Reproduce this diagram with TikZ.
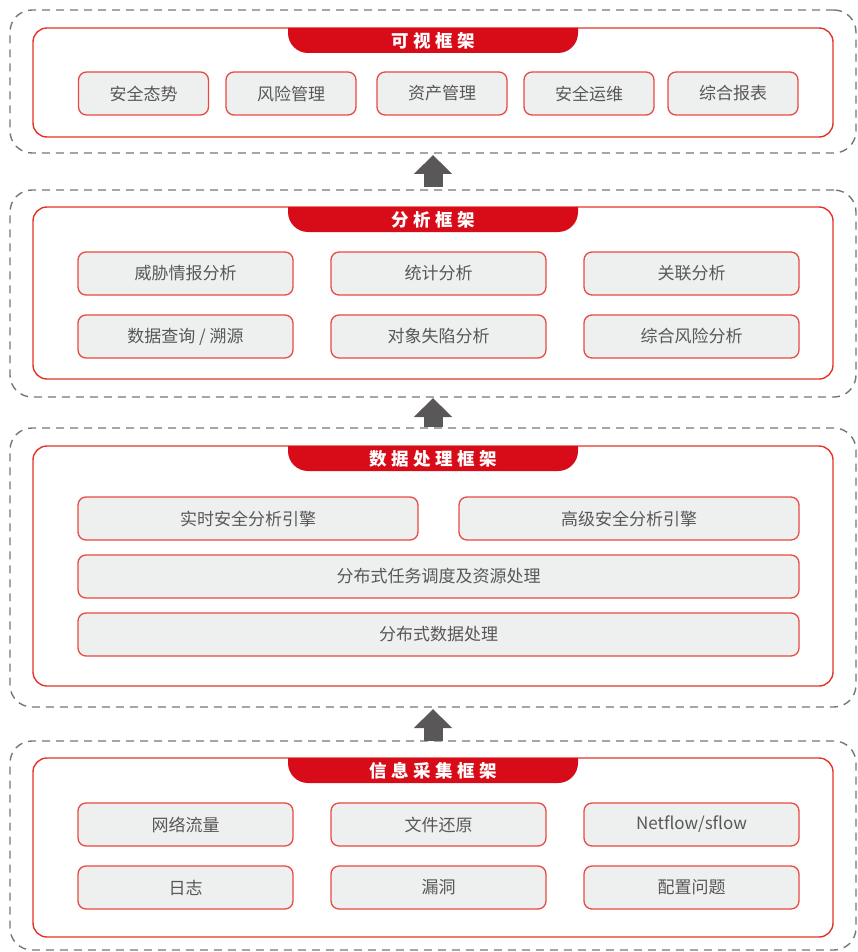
\documentclass[tikz,border=0pt]{standalone}
\usepackage{fontspec}
\setmainfont{Noto Sans CJK SC}
\usetikzlibrary{arrows.meta}
\definecolor{tabred}{HTML}{D70C18}
\definecolor{boxred}{HTML}{E5332A}
\definecolor{cellred}{HTML}{E84A40}
\definecolor{cellfill}{HTML}{EEEFEF}
\definecolor{txtgrey}{HTML}{595757}
\definecolor{dashgrey}{HTML}{767676}
\newcommand{\tabtitle}[1]{\bfseries\fontsize{17.5}{17.5}\selectfont #1}
\newcommand{\tk}{\kern4.5pt }
\begin{document}
\begin{tikzpicture}[x=1pt,y=1pt,
  outerbox/.style={draw=dashgrey, line width=1.4pt, dash pattern=on 8pt off 6pt, rounded corners=22pt, minimum width=846pt, inner sep=0pt},
  redbox/.style={draw=boxred, line width=1.4pt, rounded corners=14pt, minimum width=800pt, inner sep=0pt, fill=white},
  cell/.style={draw=cellred, line width=1.3pt, fill=cellfill, rounded corners=8pt, minimum height=43pt, inner sep=0pt, text=txtgrey, font=\fontsize{17}{17}\selectfont},
  tabtxt/.style={text=white, inner sep=0pt, font=\tabtitle},
  uparrow/.style={draw=txtgrey, line width=19pt, -{Triangle[width=37pt,length=19pt]}}
]
\useasboundingbox (0,0) rectangle (857,-952);
% outer dashed frames
\node[outerbox, minimum height=143pt] (o1) at (433,-81.5) {};
\node[outerbox, minimum height=207pt] (o2) at (433,-293.5) {};
\node[outerbox, minimum height=279pt] (o3) at (433,-567.5) {};
\node[outerbox, minimum height=209pt] (o4) at (433,-845.5) {};
% red frames
\node[redbox, minimum height=109pt] (r1) at (433,-82.5) {};
\node[redbox, minimum height=172pt] (r2) at (433,-293) {};
\node[redbox, minimum height=240pt] (r3) at (433,-566) {};
\node[redbox, minimum height=179pt] (r4) at (433,-847.5) {};
% tabs
\foreach \t in {28,207,446,758}{
  \fill[tabred] (288,-\t) -- (288,-\t-5) arc[start angle=180,end angle=270,radius=20] -- (558,-\t-25) arc[start angle=270,end angle=360,radius=20] -- (578,-\t) -- cycle;
}
\node[tabtxt] (t1) at (433,-41) {可\tk 视\tk 框\tk 架};
\node[tabtxt] (t2) at (433,-220) {分\tk 析\tk 框\tk 架};
\node[tabtxt] (t3) at (433,-459) {数\tk 据\tk 处\tk 理\tk 框\tk 架};
\node[tabtxt] (t4) at (433,-771) {信\tk 息\tk 采\tk 集\tk 框\tk 架};
% row 1
\node[cell, minimum width=130pt] (v1) at (143.5,-93.5) {安全态势};
\node[cell, minimum width=130pt] (v2) at (291,-93.5) {风险管理};
\node[cell, minimum width=130pt] (v3) at (442,-93.5) {资产管理};
\node[cell, minimum width=130pt] (v4) at (589,-93.5) {安全运维};
\node[cell, minimum width=130pt] (v5) at (733,-93.5) {综合报表};
% analysis
\node[cell, minimum width=215pt] (a1) at (185.5,-273.5) {威胁情报分析};
\node[cell, minimum width=215pt] (a2) at (438.5,-273.5) {统计分析};
\node[cell, minimum width=215pt] (a3) at (691.5,-273.5) {关联分析};
\node[cell, minimum width=215pt] (a4) at (185.5,-336.5) {数据查询 / 溯源};
\node[cell, minimum width=215pt] (a5) at (438.5,-336.5) {对象失陷分析};
\node[cell, minimum width=215pt] (a6) at (691.5,-336.5) {综合风险分析};
% data processing
\node[cell, minimum width=340pt] (d1) at (248,-518.5) {实时安全分析引擎};
\node[cell, minimum width=340pt] (d2) at (629,-518.5) {高级安全分析引擎};
\node[cell, minimum width=721pt] (d3) at (438.5,-576.5) {分布式任务调度及资源处理};
\node[cell, minimum width=721pt] (d4) at (438.5,-634.5) {分布式数据处理};
% info collection
\node[cell, minimum width=215pt] (c1) at (185.5,-824.5) {网络流量};
\node[cell, minimum width=215pt] (c2) at (438.5,-824.5) {文件还原};
\node[cell, minimum width=215pt] (c3) at (691.5,-824.5) {Netflow/sflow};
\node[cell, minimum width=215pt] (c4) at (185.5,-887.5) {日志};
\node[cell, minimum width=215pt] (c5) at (438.5,-887.5) {漏洞};
\node[cell, minimum width=215pt] (c6) at (691.5,-887.5) {配置问题};
% arrows
\coordinate (p1a) at (433,-187); \coordinate (p1b) at (433,-155);
\coordinate (p2a) at (433,-427); \coordinate (p2b) at (433,-398);
\coordinate (p3a) at (433,-741); \coordinate (p3b) at (433,-709);
\draw[uparrow] (p1a) -- (p1b);
\draw[uparrow] (p2a) -- (p2b);
\draw[uparrow] (p3a) -- (p3b);
\end{tikzpicture}
\end{document}
